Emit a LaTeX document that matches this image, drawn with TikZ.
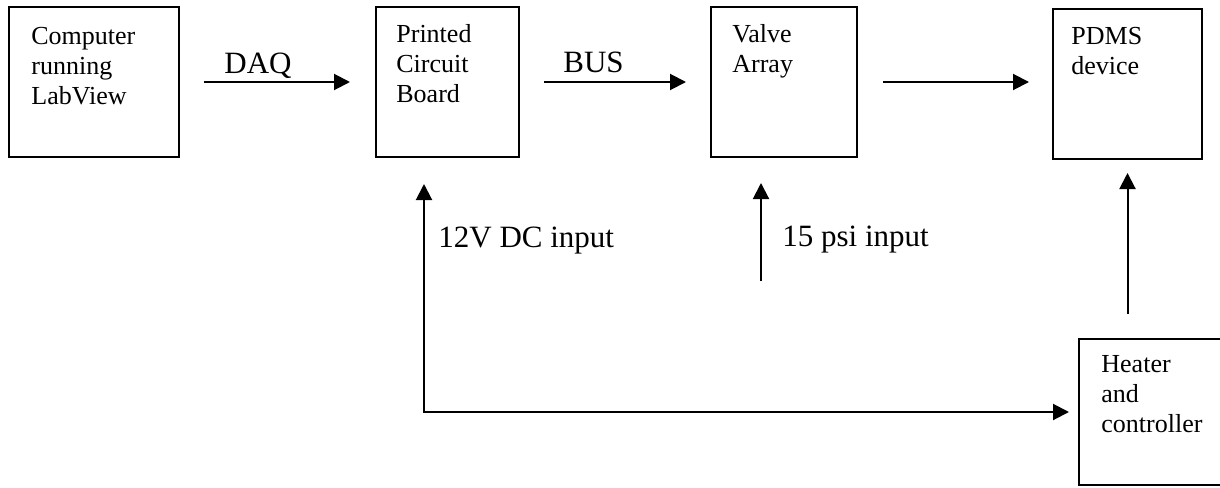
\documentclass[tikz,border=0pt]{standalone}
\usepackage{fontspec}
\setmainfont{Liberation Serif}
\usetikzlibrary{arrows.meta,calc}

\begin{document}
\begin{tikzpicture}[x=0.5pt,y=-0.5pt,
  blk/.style={draw, line width=1pt, inner sep=0pt},
  boxtext/.style={anchor=base west, inner sep=0pt, font=\fontsize{13}{15}\selectfont},
  flowlabel/.style={anchor=base west, inner sep=0pt, font=\fontsize{15.5}{18}\selectfont},
  tip/.tip={Triangle[length=8pt,width=8pt]},
  link/.style={line width=1pt, -tip},
  linkboth/.style={line width=1pt, tip-tip},
]
\useasboundingbox (0,0) rectangle (1220,487);

% blocks
\node[blk, minimum width=85pt,   minimum height=75pt] (comp)   at (94,82) {};
\node[blk, minimum width=71.5pt, minimum height=75pt] (pcb)    at (447.5,82) {};
\node[blk, minimum width=73pt,   minimum height=75pt] (valve)  at (784,82) {};
\node[blk, minimum width=74.5pt, minimum height=75pt] (pdms)   at (1127.5,84) {};
\node[blk, minimum width=71.5pt, minimum height=73pt] (heater) at (1150.5,412) {};

% block captions, top-left aligned
\node[boxtext] (compt)   at ($(comp.north west)+(23,38)$)   {\begin{tabular}[t]{@{}l@{}}Computer\\running\\LabView\end{tabular}};
\node[boxtext] (pcbt)    at ($(pcb.north west)+(21,36)$)    {\begin{tabular}[t]{@{}l@{}}Printed\\Circuit\\Board\end{tabular}};
\node[boxtext] (valvet)  at ($(valve.north west)+(22,36)$)  {\begin{tabular}[t]{@{}l@{}}Valve\\Array\end{tabular}};
\node[boxtext] (pdmst)   at ($(pdms.north west)+(19,36)$)   {\begin{tabular}[t]{@{}l@{}}PDMS\\device\end{tabular}};
\node[boxtext] (heatert) at ($(heater.north west)+(23,34)$) {\begin{tabular}[t]{@{}l@{}}Heater\\and\\controller\end{tabular}};

% signal chain
\draw[link, shorten <=12pt,   shorten >=12.5pt] (comp.east)  -- (pcb.west);
\draw[link, shorten <=12pt,   shorten >=12pt]   (pcb.east)   -- (valve.west);
\draw[link, shorten <=12.5pt, shorten >=11.5pt] (valve.east) -- (valve.east -| pdms.west);

% supplies
\coordinate (dcin) at (424,412);
\draw[linkboth, shorten <=13pt, shorten >=4.5pt] (pcb.south -| dcin) -- (dcin) -- (heater.west);
\coordinate (psi) at (761,281);
\draw[link, shorten >=12.5pt] (psi) -- (psi |- valve.south);
\draw[link, shorten <=12pt, shorten >=6.5pt] (heater.north -| pdms.south) -- (pdms.south);

% labels
\node[flowlabel] (daq)  at (224,73)  {DAQ};
\node[flowlabel] (bus)  at (563,72)  {BUS};
\node[flowlabel] (dc)   at (438,247) {12V DC input};
\node[flowlabel] (psil) at (782,246) {15 psi input};
\end{tikzpicture}
\end{document}
